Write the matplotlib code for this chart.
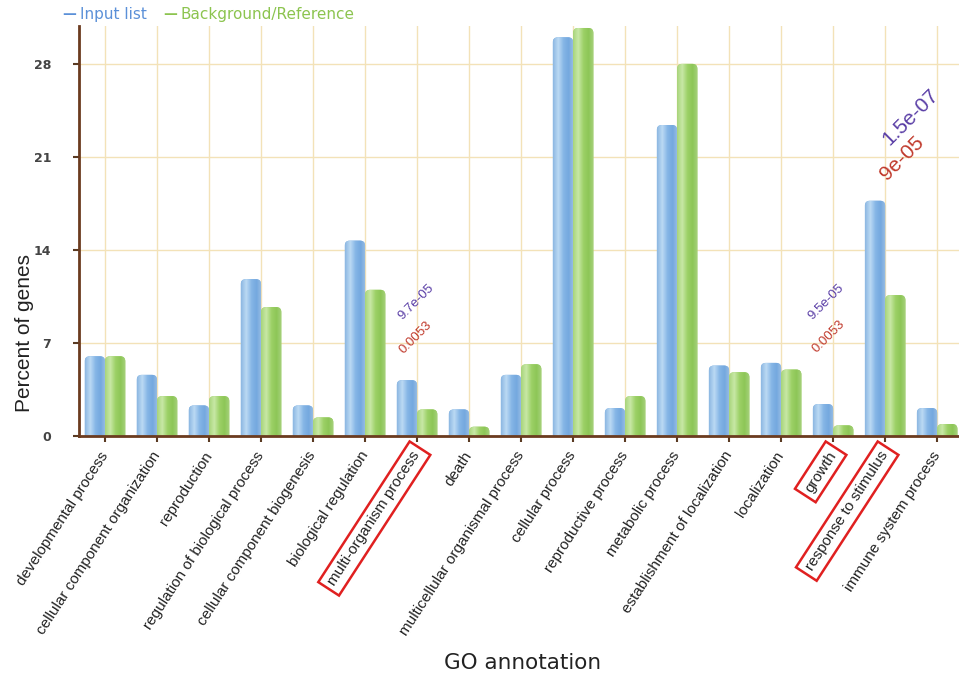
import numpy as np
import matplotlib
matplotlib.use("Agg")
import matplotlib.pyplot as plt
from matplotlib.patches import FancyBboxPatch
from matplotlib.colors import LinearSegmentedColormap

# GO categories and percent of genes
categories = ["developmental process", "cellular component organization", "reproduction",
              "regulation of biological process", "cellular component biogenesis",
              "biological regulation", "multi-organism process", "death",
              "multicellular organismal process", "cellular process", "reproductive process",
              "metabolic process", "establishment of localization", "localization",
              "growth", "response to stimulus", "immune system process"]
input_list = [6.0, 4.6, 2.3, 11.8, 2.3, 14.7, 4.2, 2.0, 4.6, 30.0, 2.1, 23.4, 5.3, 5.5, 2.4, 17.7, 2.1]
background = [6.0, 3.0, 3.0, 9.7, 1.4, 11.0, 2.0, 0.7, 5.4, 30.7, 3.0, 28.0, 4.8, 5.0, 0.8, 10.6, 0.9]
yticks = [0, 7, 14, 21, 28]
boxed = ["multi-organism process", "growth", "response to stimulus"]

# p-value annotations: (x position, y position, text, colour, size)
pvals = [(5.99, 10.1, "9.7e-05", "#5a3ea6", 9.5), (5.97, 7.4, "0.0053", "#c0392b", 9.5),
         (13.86, 10.1, "9.5e-05", "#5a3ea6", 9.5), (13.92, 7.45, "0.0053", "#c0392b", 9.5),
         (15.49, 24.0, "1.5e-07", "#5a3ea6", 15), (15.32, 20.9, "9e-05", "#c0392b", 15)]

W, H = 959, 685
fig = plt.figure(figsize=(W / 100, H / 100), dpi=100)
left, right, bottom, top = 79 / W, 1.0, 1 - 436 / H, 1 - 26 / H
ax = fig.add_axes([left, bottom, right - left, top - bottom])

xlim = (-0.5, 16.42)
ylim = (0, 30.85)
ax.set_xlim(*xlim)
ax.set_ylim(*ylim)

x = np.arange(len(categories))
bw = 0.39

blue_cm = LinearSegmentedColormap.from_list("b", ["#8db8e2", "#bcdaf4", "#86b6e6", "#74a8df", "#9bbfe4"])
green_cm = LinearSegmentedColormap.from_list("g", ["#a9d57c", "#c8e8a6", "#9dd167", "#8dc657", "#a8d27e"])
grad = np.linspace(0, 1, 64).reshape(1, -1)

# aspect between x and y data units in pixels, for rounded tops
pxx = (right - left) * W / (xlim[1] - xlim[0])
pxy = (top - bottom) * H / (ylim[1] - ylim[0])
r = 5 / pxx

for vals, off, cm, col in [(input_list, -bw / 2, blue_cm, "#7fb1e4"), (background, bw / 2, green_cm, "#9dd167")]:
    bars = ax.bar(x + off, vals, bw, color=col, visible=False)
    for b in bars:
        x0, w, h = b.get_x(), b.get_width(), b.get_height()
        p = FancyBboxPatch((x0, -1), w, h + 1, boxstyle="round,pad=0,rounding_size=%f" % r,
                           mutation_aspect=pxx / pxy, fc=col, ec="none", zorder=2)
        ax.add_patch(p)
        im = ax.imshow(grad, extent=[x0, x0 + w, -1, h], aspect="auto", cmap=cm, zorder=2.1)
        im.set_clip_path(p)

ax.set_xlim(*xlim)
ax.set_ylim(*ylim)

ax.set_yticks(yticks)
ax.set_yticklabels([str(t) for t in yticks], fontsize=9, fontweight="bold", color="#444444",
                   family="DejaVu Sans")
ax.set_xticks(x)
ax.set_xticklabels(categories, rotation=57, ha="right", va="center", rotation_mode="anchor",
                   fontsize=11, family="Liberation Sans", color="#222222")
ax.tick_params(axis="x", length=4, width=1.5, color="#5a3a22", pad=8)
ax.tick_params(axis="y", length=4, width=1.5, color="#5a3a22", pad=16)
for lab in ax.get_xticklabels():
    if lab.get_text() in boxed:
        lab.set_bbox(dict(boxstyle="square,pad=0.35", fc="none", ec="#e02020", lw=1.8))

ax.grid(True, color="#f3e2b8", lw=1, zorder=0)
ax.set_axisbelow(True)
for s in ["top", "right"]:
    ax.spines[s].set_visible(False)
for s in ["left", "bottom"]:
    ax.spines[s].set_color("#6b3b1f")
    ax.spines[s].set_linewidth(2)
    ax.spines[s].set_zorder(3)

for px, py, t, c, fs in pvals:
    ax.text(px, py, t, color=c, fontsize=fs, rotation=45, ha="center", va="center",
            family="Liberation Sans", zorder=4)

fig.text(25 / W, 1 - 333 / H, "Percent of genes", rotation=90, ha="center", va="center",
         fontsize=15, family="Liberation Sans", color="#222222")
fig.text(523 / W, 1 - 663 / H, "GO annotation", ha="center", va="center",
         fontsize=15.5, family="DejaVu Sans", color="#222222")

# legend line
fig.text(62 / W, 1 - 14 / H, "\u2014", color="#5b90d8", fontsize=10, va="center", fontweight="bold")
fig.text(80 / W, 1 - 14 / H, "Input list", color="#5b90d8", fontsize=11, va="center")
fig.text(163 / W, 1 - 14 / H, "\u2014", color="#8cc44f", fontsize=10, va="center", fontweight="bold")
fig.text(181 / W, 1 - 14 / H, "Background/Reference", color="#8cc44f", fontsize=11, va="center")

fig.savefig("out.png", dpi=100)
